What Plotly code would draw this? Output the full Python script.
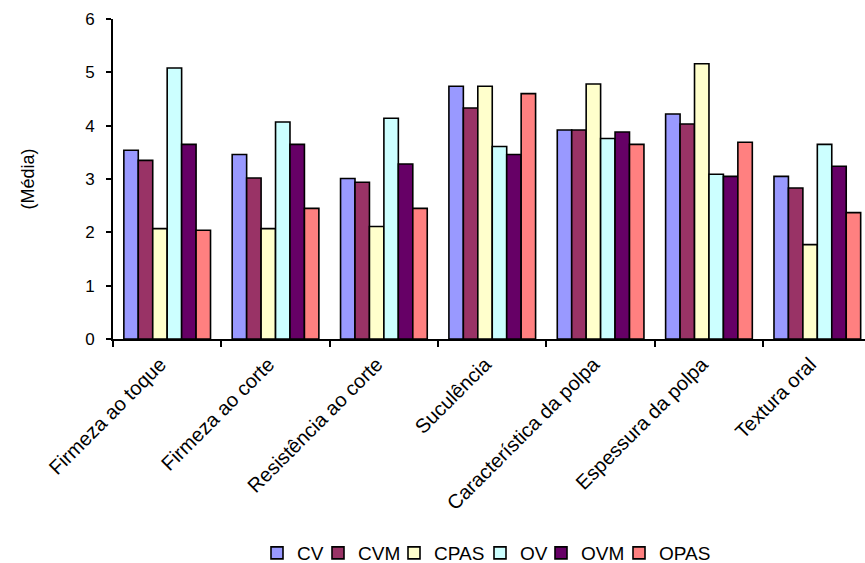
import plotly.graph_objects as go

# Sensory attributes evaluated
categories = [
    "Firmeza ao toque",
    "Firmeza ao corte",
    "Resistência ao corte",
    "Suculência",
    "Característica da polpa",
    "Espessura da polpa",
    "Textura oral",
]

# Mean scores per treatment
cv = [3.54, 3.46, 3.01, 4.74, 3.92, 4.22, 3.05]
cvm = [3.35, 3.02, 2.94, 4.33, 3.92, 4.03, 2.83]
cpas = [2.07, 2.07, 2.11, 4.74, 4.78, 5.16, 1.77]
ov = [5.08, 4.07, 4.14, 3.61, 3.76, 3.09, 3.65]
ovm = [3.65, 3.65, 3.28, 3.46, 3.88, 3.05, 3.24]
opas = [2.04, 2.45, 2.45, 4.60, 3.65, 3.69, 2.37]

series_names = ["CV", "CVM", "CPAS", "OV", "OVM", "OPAS"]
series_values = [cv, cvm, cpas, ov, ovm, opas]
series_colors = ["#9999FF", "#993366", "#FFFFCC", "#CCFFFF", "#660066", "#FF8080"]

y_ticks = [0, 1, 2, 3, 4, 5, 6]

font_family = "Liberation Sans, Arial, sans-serif"
W, H = 865, 563

# one small legend per series so the entries can sit close together (left edge, px)
legend_left_px = [257, 318, 394, 480, 541, 619]
legend_ids = ["legend"] + [f"legend{i}" for i in range(2, 7)]

fig = go.Figure()
for name, vals, color, lid in zip(series_names, series_values, series_colors, legend_ids):
    fig.add_trace(
        go.Bar(
            x=categories,
            y=vals,
            name=name,
            legend=lid,
            marker=dict(color=color, line=dict(color="black", width=1.6)),
        )
    )

legend_layout = {}
for lid, lx in zip(legend_ids, legend_left_px):
    legend_layout[lid] = dict(
        orientation="h",
        xref="container",
        yref="container",
        x=lx / W,
        xanchor="left",
        y=1 - 553 / H,
        yanchor="middle",
        font=dict(size=19),
        itemwidth=30,
        bgcolor="rgba(0,0,0,0)",
    )

fig.update_layout(
    width=W,
    height=H,
    barmode="group",
    bargap=0.2,
    bargroupgap=0,
    plot_bgcolor="white",
    paper_bgcolor="white",
    font=dict(family=font_family, size=18, color="black"),
    margin=dict(l=113, r=0, t=19, b=224),
    showlegend=True,
    xaxis=dict(
        type="category",
        range=[-0.5, 6.44],
        tickangle=-45,
        tickson="boundaries",
        ticks="outside",
        ticklen=6,
        tickwidth=1.6,
        tickcolor="black",
        showline=True,
        linecolor="black",
        linewidth=1.6,
        showgrid=False,
        tickfont=dict(size=20),
        ticklabelstandoff=4,
        ticklabelshift=-7,
    ),
    yaxis=dict(
        range=[0, 6],
        tickvals=y_ticks,
        ticks="outside",
        ticklen=5,
        tickwidth=1.6,
        tickcolor="black",
        showline=True,
        linecolor="black",
        linewidth=1.6,
        showgrid=False,
        zeroline=False,
        tickfont=dict(size=17),
        ticklabelstandoff=8,
        title=dict(text="(Média)", font=dict(size=18), standoff=46),
    ),
    **legend_layout,
)

fig.write_html("out.html")
